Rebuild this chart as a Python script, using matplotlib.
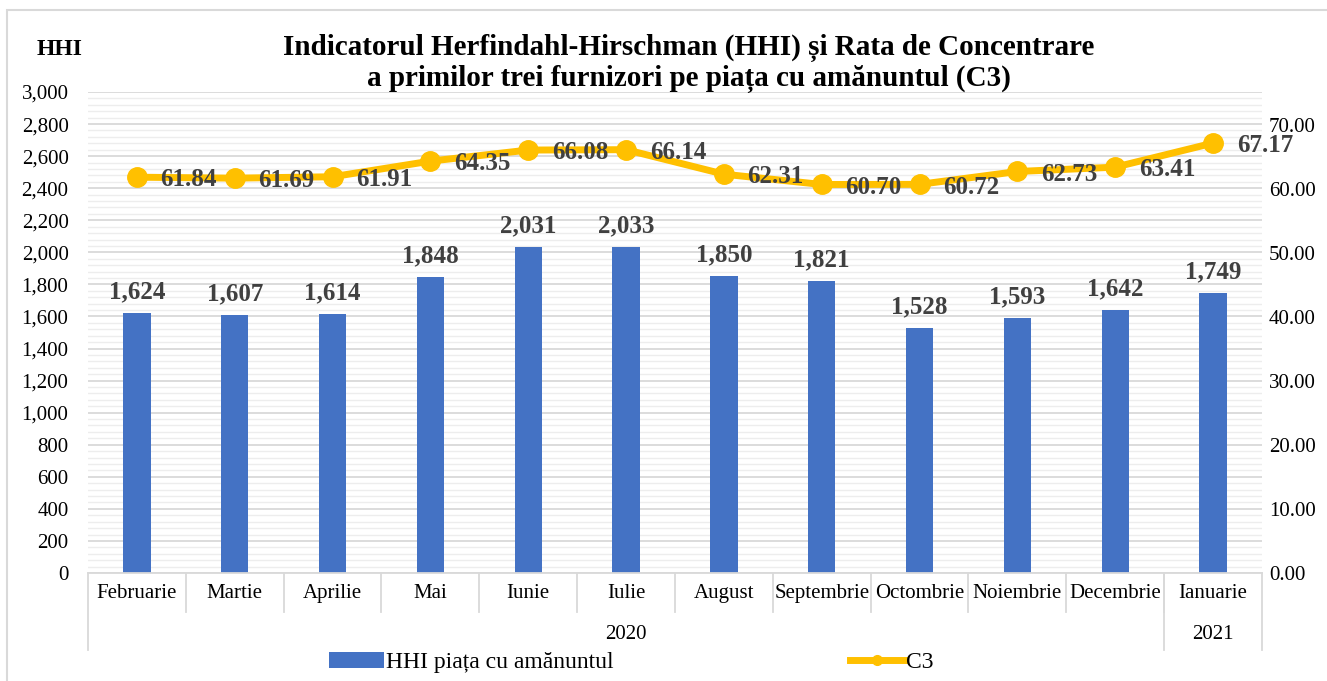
import numpy as np
import matplotlib
matplotlib.use("Agg")
import matplotlib.pyplot as plt
from matplotlib.ticker import FuncFormatter, MultipleLocator
from matplotlib.patches import Rectangle
from matplotlib.lines import Line2D

months = ["Februarie", "Martie", "Aprilie", "Mai", "Iunie", "Iulie", "August",
          "Septembrie", "Octombrie", "Noiembrie", "Decembrie", "Ianuarie"]
years = ["2020", "2021"]
year_counts = [11, 1]
hhi = [1624, 1607, 1614, 1848, 2031, 2033, 1850, 1821, 1528, 1593, 1642, 1749]
c3 = [61.84, 61.69, 61.91, 64.35, 66.08, 66.14, 62.31, 60.70, 60.72, 62.73, 63.41, 67.17]

BLUE = "#4472C4"
GOLD = "#FFC000"
LABEL = "#404040"
GRID = "#D9D9D9"
TICK_FS = 15
LBL_FS = 18

plt.rcParams["font.family"] = ["Liberation Serif", "DejaVu Serif"]

fig = plt.figure(figsize=(13.27, 6.81), dpi=100)
fig.patches.append(Rectangle((0.005, -0.05), 1.2, 1.035, transform=fig.transFigure,
                             fill=False, edgecolor="#D9D9D9", linewidth=1.5))
ax = fig.add_axes([0.0663, 0.1586, 0.8847, 0.7063])
ax2 = ax.twinx()

x = np.arange(len(months))
bars = ax.bar(x, hhi, width=0.28, color=BLUE, zorder=2)
ax.set_xlim(-0.5, len(months) - 0.5)
ax.set_ylim(0, 3000)
ax.yaxis.set_major_locator(MultipleLocator(200))
ax.yaxis.set_minor_locator(MultipleLocator(40))
ax.yaxis.set_major_formatter(FuncFormatter(lambda v, p: f"{v:,.0f}"))
ax.grid(axis="y", which="major", color=GRID, linewidth=1.3, zorder=0)
ax.grid(axis="y", which="minor", color="#EDEDED", linewidth=1.0, zorder=0)
ax.set_axisbelow(True)
for b, v in zip(bars, hhi):
    ax.annotate(f"{v:,}", (b.get_x() + b.get_width() / 2, v), xytext=(0, 7),
                textcoords="offset points", ha="center", va="bottom",
                fontsize=LBL_FS, fontweight="bold", color=LABEL)

line, = ax2.plot(x, c3, color=GOLD, linewidth=5, marker="o", markersize=14, zorder=3)
ax2.set_ylim(0, 75.15)
ax2.set_yticks(np.arange(0, 71, 10))
ax2.yaxis.set_major_formatter(FuncFormatter(lambda v, p: f"{v:.2f}"))
for xi, v in zip(x, c3):
    ax2.annotate(f"{v:.2f}", (xi, v), xytext=(17, -2), textcoords="offset points",
                 ha="left", va="center", fontsize=LBL_FS, fontweight="bold", color=LABEL)

for a in (ax, ax2):
    for s in a.spines.values():
        s.set_visible(False)
    a.tick_params(which="both", length=0, labelsize=TICK_FS, colors="black")
ax.spines["bottom"].set_visible(True)
ax.spines["bottom"].set_color(GRID)
ax.spines["bottom"].set_linewidth(1.3)
ax.tick_params(axis="y", pad=14)
ax2.tick_params(axis="y", pad=5)

# two-level category axis
ax.set_xticks(x)
ax.set_xticklabels(months)
ax.tick_params(axis="x", pad=8)
xt = ax.get_xaxis_transform()
n = len(months)
for i in range(1, n):
    ax.plot([i - 0.5, i - 0.5], [0, -0.081], transform=xt,
            color=GRID, linewidth=1.3, clip_on=False)
start = 0
bounds = [0]
for yname, cnt in zip(years, year_counts):
    mid = start + cnt / 2 - 0.5
    ax.text(mid, -0.128, yname, transform=xt, ha="center", va="center", fontsize=TICK_FS)
    start += cnt
    bounds.append(start)
for bnd in bounds:
    ax.plot([bnd - 0.5, bnd - 0.5], [0, -0.16], transform=xt,
            color=GRID, linewidth=1.3, clip_on=False)

fig.text(0.519, 0.907, "Indicatorul Herfindahl-Hirschman (HHI) și Rata de Concentrare\n"
         "a primilor trei furnizori pe piața cu amănuntul (C3)",
         ha="center", va="center", fontsize=21, fontweight="bold", linespacing=1.17)
fig.text(0.045, 0.928, "HHI", ha="center", va="center", fontsize=17, fontweight="bold")

c3_handle = Line2D([], [], color=GOLD, linewidth=5, marker="o", markersize=7)
fig.legend(handles=[bars, c3_handle], labels=["HHI piața cu amănuntul", "C3"],
           loc="center", bbox_to_anchor=(0.476, 0.027), ncol=2,
           frameon=False, fontsize=17, columnspacing=10.0, handlelength=2.3,
           handletextpad=0.1, borderaxespad=0, borderpad=0)

fig.savefig("out.png", dpi=100)
